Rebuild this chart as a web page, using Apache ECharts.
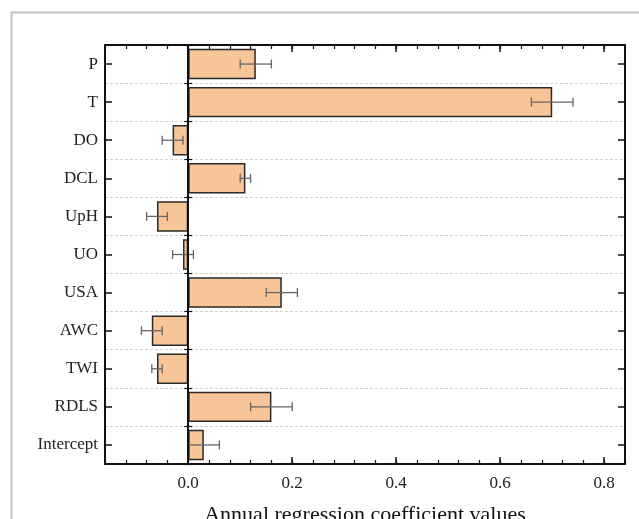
<!DOCTYPE html>
<html>
<head>
<meta charset="utf-8">
<script src="https://cdn.jsdelivr.net/npm/echarts@6/dist/echarts.min.js"></script>
<style>
  html, body { margin: 0; padding: 0; background: #fff; }
  #grafico { width: 639px; height: 519px; }
</style>
</head>
<body>
<div id="grafico"></div>
<script>
// Dados (de cima para baixo)
const categorias = ["P", "T", "DO", "DCL", "UpH", "UO", "USA", "AWC", "TWI", "RDLS", "Intercept"];
const coeficientes = [0.13, 0.70, -0.03, 0.11, -0.06, -0.01, 0.18, -0.07, -0.06, 0.16, 0.03];
const erros = [0.03, 0.04, 0.02, 0.01, 0.02, 0.02, 0.03, 0.02, 0.01, 0.04, 0.03];
const marcasX = [0, 0.2, 0.4, 0.6, 0.8];

const fonte = "Liberation Serif";
const grafico = echarts.init(document.getElementById("grafico"));

// Barras de erro: [indice, minimo, maximo]
const dadosErro = coeficientes.map((v, i) => [i, v - erros[i], v + erros[i]]);

// Eixo X base (mesmos limites para todos)
function eixoX(extra) {
    return Object.assign({
        type: "value", min: -0.16, max: 0.84, interval: 0.04,
        splitLine: { show: false },
        axisLine: { show: false },
        axisLabel: { show: false },
        axisTick: { show: false }
    }, extra);
}
function eixoY(extra) {
    return Object.assign({
        type: "category", data: categorias, inverse: true, boundaryGap: true,
        splitLine: { show: false },
        axisLine: { show: false },
        axisLabel: { show: false },
        axisTick: { show: false }
    }, extra);
}

const opcoes = {
    animation: false,
    graphic: [{
        type: "rect", left: 9, top: 10, shape: { width: 660, height: 540 },
        style: { fill: "none", stroke: "#c4c4c4", lineWidth: 2 }, silent: true
    }],
    grid: { left: 105, right: 14, top: 45, bottom: 55, containLabel: false, outerBoundsMode: "none" },
    xAxis: [
        eixoX({
            position: "bottom",
            name: "Annual regression coefficient values",
            nameLocation: "middle", nameGap: 40,
            nameTextStyle: { fontFamily: fonte, fontSize: 22, color: "#111" },
            axisLine: { show: true, onZero: false, lineStyle: { color: "#111", width: 2 } },
            axisTick: { show: true, inside: true, length: 7, customValues: marcasX, lineStyle: { color: "#111", width: 1.5 } },
            axisLabel: { show: true, customValues: marcasX, margin: 11, fontFamily: fonte, fontSize: 17, color: "#222",
                formatter: v => v.toFixed(1) }
        }),
        eixoX({
            position: "bottom",
            axisTick: { show: true, inside: true, length: 4, lineStyle: { color: "#111", width: 1.2 } }
        }),
        eixoX({
            position: "top",
            axisLine: { show: true, onZero: false, lineStyle: { color: "#111", width: 2 } },
            axisTick: { show: true, inside: true, length: 7, customValues: marcasX, lineStyle: { color: "#111", width: 1.5 } }
        }),
        eixoX({
            position: "top",
            axisTick: { show: true, inside: true, length: 4, lineStyle: { color: "#111", width: 1.2 } }
        })
    ],
    yAxis: [
        eixoY({
            position: "left",
            axisLine: { show: true, onZero: false, lineStyle: { color: "#111", width: 2 } },
            axisTick: { show: true, inside: true, alignWithLabel: true, length: 7, lineStyle: { color: "#111", width: 1.5 } },
            axisLabel: { show: true, margin: 7, fontFamily: fonte, fontSize: 17, color: "#222" }
        }),
        eixoY({
            position: "left",
            axisTick: { show: true, inside: true, length: 4, lineStyle: { color: "#111", width: 1.2 } },
            splitLine: { show: true, lineStyle: { color: "#d2d2d2", type: [3, 2], width: 1 } }
        }),
        eixoY({
            position: "right",
            axisLine: { show: true, onZero: false, lineStyle: { color: "#111", width: 2 } },
            axisTick: { show: true, inside: true, alignWithLabel: true, length: 7, lineStyle: { color: "#111", width: 1.5 } }
        }),
        eixoY({
            position: "right",
            axisTick: { show: true, inside: true, length: 4, lineStyle: { color: "#111", width: 1.2 } }
        })
    ],
    series: [
        {
            type: "bar",
            xAxisIndex: 0, yAxisIndex: 0,
            data: coeficientes,
            barCategoryGap: "20%",
            itemStyle: { color: "#f7c598", borderColor: "#2a2a2a", borderWidth: 1.5 },
            markLine: {
                silent: true, symbol: "none", label: { show: false },
                lineStyle: { color: "#111", type: "solid", width: 2 },
                data: [{ xAxis: 0 }]
            },
            z: 2
        },
        {
            type: "custom",
            xAxisIndex: 0, yAxisIndex: 0,
            data: dadosErro,
            encode: { x: [1, 2], y: 0 },
            renderItem: function (params, api) {
                const i = api.value(0);
                const baixo = api.coord([api.value(1), i]);
                const alto = api.coord([api.value(2), i]);
                const meia = 4.5;
                const estilo = { stroke: "#666666", lineWidth: 1.3, fill: "none" };
                return {
                    type: "group",
                    children: [
                        { type: "line", shape: { x1: baixo[0], y1: baixo[1], x2: alto[0], y2: alto[1] }, style: estilo },
                        { type: "line", shape: { x1: baixo[0], y1: baixo[1] - meia, x2: baixo[0], y2: baixo[1] + meia }, style: estilo },
                        { type: "line", shape: { x1: alto[0], y1: alto[1] - meia, x2: alto[0], y2: alto[1] + meia }, style: estilo }
                    ]
                };
            },
            z: 3
        }
    ]
};

grafico.setOption(opcoes);
</script>
</body>
</html>
